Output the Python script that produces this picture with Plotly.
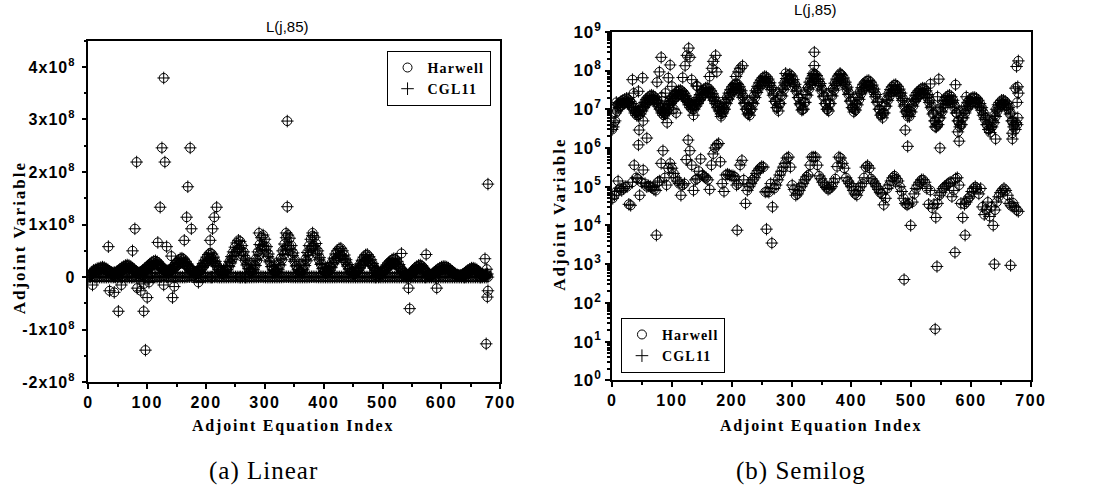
import plotly.graph_objects as go
import numpy as np

# ---------------- data ----------------
# upper band of adjoint values (units of 1e7), equation index 0,3,6,...
up_j = list(range(0, 679, 3))
up_e7 = [0.3, 0.45, 0.8, 1.3, 1.4, 1.6, 1.7, 1.8, 1.9, 1.8,
         1.6, 1.4, 1.1, 0.9, 0.8, 0.9, 1.0, 1.2, 1.5, 1.8,
         2.0, 2.2, 2.3, 2.2, 2.0, 1.7, 1.4, 1.1, 0.9, 0.8,
         1.0, 1.3, 1.6, 1.9, 2.2, 2.5, 2.8, 3.0, 3.1, 2.9,
         2.6, 2.2, 1.8, 1.5, 1.3, 1.2, 1.3, 1.6, 2.0, 2.4,
         2.8, 3.2, 3.5, 3.6, 3.4, 3.0, 2.5, 2.0, 1.6, 1.2,
         1.0, 0.9, 1.1, 1.5, 2.0, 2.6, 3.2, 3.8, 4.3, 4.6,
         4.4, 3.8, 3.0, 2.2, 1.5, 1.0, 0.8, 1.0, 1.5, 2.2,
         3.0, 3.9, 4.8, 5.7, 6.5, 7.0, 6.8, 6.0, 4.8, 3.6,
         2.5, 1.6, 1.1, 1.4, 2.3, 3.5, 4.8, 6.2, 7.5, 8.0,
         7.2, 5.8, 4.4, 3.1, 2.0, 1.3, 1.0, 1.5, 2.4, 3.6,
         5.0, 6.3, 7.5, 8.0, 7.4, 6.0, 4.6, 3.3, 2.2, 1.4,
         1.0, 1.4, 2.3, 3.4, 4.7, 6.0, 7.2, 7.9, 7.6, 6.4,
         5.0, 3.7, 2.6, 1.7, 1.1, 1.0, 1.4, 2.0, 2.8, 3.6,
         4.4, 5.0, 5.4, 5.5, 5.0, 4.2, 3.3, 2.4, 1.6, 1.0,
         0.75, 0.8, 1.2, 1.8, 2.5, 3.2, 3.8, 4.2, 4.3, 3.9,
         3.3, 2.6, 1.9, 1.3, 0.9, 0.75, 0.9, 1.3, 1.8, 2.3,
         2.7, 3.0, 3.3, 3.5, 3.4, 3.0, 2.4, 1.7, 1.2, 0.8,
         0.5, 0.4, 0.6, 0.9, 1.3, 1.7, 2.0, 2.2, 2.3, 2.1,
         1.7, 1.2, 0.8, 0.5, 0.4, 0.6, 0.9, 1.2, 1.5, 1.7,
         1.9, 2.0, 2.0, 1.9, 1.7, 1.4, 1.1, 0.8, 0.6, 0.4,
         0.3, 0.35, 0.5, 0.7, 1.0, 1.3, 1.5, 1.7, 1.7, 1.6,
         1.4, 1.1, 0.8, 0.5, 0.4, 0.45, 0.6]

# inner edge of the upper band (units of 1e7), equation index 2,5,8,...
mid_j = list(range(2, 678, 3))
mid_e7 = [0.35, 0.5, 0.9, 1.1, 1.2, 1.3, 1.4, 1.5, 1.5, 1.4,
          1.2, 1.0, 0.8, 0.7, 0.7, 0.75, 0.9, 1.1, 1.3, 1.5,
          1.7, 1.8, 1.8, 1.7, 1.5, 1.2, 1.0, 0.8, 0.7, 0.75,
          0.9, 1.1, 1.4, 1.6, 1.9, 2.1, 2.3, 2.4, 2.4, 2.2,
          1.9, 1.6, 1.3, 1.1, 1.0, 1.0, 1.2, 1.4, 1.7, 2.0,
          2.3, 2.6, 2.8, 2.7, 2.5, 2.1, 1.7, 1.4, 1.1, 0.9,
          0.75, 0.8, 1.0, 1.4, 1.8, 2.2, 2.7, 3.1, 3.4, 3.5,
          3.2, 2.6, 2.0, 1.4, 1.0, 0.75, 0.7, 1.0, 1.4, 2.0,
          2.7, 3.4, 4.1, 4.8, 5.3, 5.4, 4.9, 4.1, 3.2, 2.3,
          1.6, 1.1, 0.9, 1.4, 2.2, 3.2, 4.2, 5.3, 6.0, 5.9,
          5.0, 3.9, 2.9, 2.0, 1.4, 0.95, 1.0, 1.5, 2.3, 3.3,
          4.3, 5.3, 6.0, 6.0, 5.2, 4.1, 3.0, 2.1, 1.4, 1.0,
          0.9, 1.4, 2.2, 3.1, 4.1, 5.1, 5.8, 6.0, 5.4, 4.4,
          3.3, 2.4, 1.6, 1.1, 0.85, 0.95, 1.3, 1.8, 2.5, 3.1,
          3.6, 4.0, 4.2, 4.0, 3.5, 2.8, 2.1, 1.5, 1.0, 0.7,
          0.6, 0.8, 1.2, 1.7, 2.2, 2.7, 3.0, 3.2, 3.1, 2.7,
          2.2, 1.7, 1.2, 0.85, 0.65, 0.65, 0.85, 1.2, 1.6, 1.9,
          2.2, 2.4, 2.6, 2.6, 2.4, 2.0, 1.5, 1.1, 0.75, 0.5,
          0.35, 0.4, 0.6, 0.85, 1.1, 1.4, 1.6, 1.7, 1.7, 1.5,
          1.1, 0.8, 0.5, 0.35, 0.4, 0.6, 0.8, 1.0, 1.2, 1.4,
          1.5, 1.5, 1.5, 1.4, 1.2, 0.95, 0.7, 0.55, 0.4, 0.3,
          0.25, 0.35, 0.45, 0.65, 0.9, 1.1, 1.3, 1.4, 1.3, 1.2,
          1.0, 0.75, 0.5, 0.35, 0.3, 0.4]

# lower band of adjoint values (units of 1e5), equation index 1,4,7,...
low_j = list(range(1, 680, 3))
low_e5 = [0.5, 0.6, 0.75, 1.4, 0.9, 0.8, 0.9, 1.0, 1.0, 0.35,
          0.33, 1.3, 3.6, 1.7, 1.6, 0.6, 1.3, 2.7, 1.2, 1.0,
          1.05, 1.0, 0.95, 0.85, 0.8, 1.3, 1.4, 4.0, 8.5, 1.7,
          1.1, 3.0, 4.0, 3.0, 2.2, 1.7, 1.4, 1.2, 0.6, 1.1,
          1.2, 5.0, 16, 8.5, 3.6, 0.8, 1.5, 1.6, 2.5, 5.2,
          2.0, 1.8, 1.7, 1.5, 0.85, 3.6, 7.0, 10, 12, 13,
          4.4, 1.2, 0.75, 2.0, 2.1, 2.0, 1.9, 1.9, 1.8, 1.1,
          1.2, 3.6, 4.8, 1.5, 0.37, 0.8, 1.0, 1.2, 1.5, 1.7,
          2.2, 2.6, 3.0, 3.3, 3.2, 0.73, 0.75, 0.72, 1.2, 0.3,
          0.9, 1.1, 1.5, 2.0, 2.5, 3.2, 4.0, 5.5, 5.8, 3.2,
          1.1, 0.85, 0.6, 0.65, 0.8, 1.0, 1.2, 1.5, 1.8, 2.0,
          3.6, 5.8, 5.8, 5.8, 3.6, 1.9, 1.6, 1.3, 1.1, 0.95,
          0.85, 0.9, 1.0, 1.3, 1.6, 3.3, 5.8, 5.5, 4.0, 3.0,
          1.7, 1.4, 1.2, 1.0, 0.8, 0.65, 0.6, 0.8, 1.0, 1.2,
          1.7, 3.2, 3.5, 3.0, 1.6, 1.4, 1.2, 1.0, 0.85, 0.7,
          0.65, 0.34, 0.5, 0.9, 1.1, 1.4, 1.7, 1.9, 1.6, 1.4,
          1.0, 0.75, 0.5, 0.37, 0.34, 0.36, 0.1, 0.4, 0.65, 0.9,
          1.1, 1.3, 1.5, 1.5, 1.3, 0.9, 0.35, 0.8, 0.28, 0.35,
          0.16, 0.37, 0.6, 0.7, 0.9, 1.0, 1.1, 1.2, 1.3, 0.55,
          0.8, 1.6, 1.7, 1.1, 0.37, 0.16, 0.35, 0.4, 0.5, 0.55,
          0.75, 0.9, 1.0, 0.9, 0.65, 0.9, 0.3, 0.19, 0.26, 0.4,
          0.17, 0.3, 0.1, 0.25, 0.4, 0.55, 0.7, 0.8, 0.9, 0.8,
          0.6, 0.37, 0.32, 0.38, 0.3, 0.25, 0.23]

# isolated values (signed)
out_j = [7, 34, 36, 44, 45, 44, 51, 52, 56, 58,
         75, 79, 82, 83, 88, 89, 92, 94, 94, 97,
         100, 103, 107, 118, 122, 125, 128, 128, 130, 133,
         136, 141, 143, 146, 163, 167, 169, 173, 175, 182,
         187, 207, 211, 214, 218, 290, 336, 338, 338, 381,
         490, 494, 532, 540, 544, 546, 548, 574, 578, 580,
         592, 641, 669, 669, 674, 676, 677, 678, 679, 679,
         74, 209, 258, 267, 488, 540, 543, 573, 590, 639,
         666]
out_v = [-1.5e7, 5.8e7, -2.6e7, -2.9e7, 2.9e6, 1.2e6, -6.5e7, 5e6, -1.5e7, 1.8e6,
         5e7, 9.2e7, 2.19e8, -2.1e7, 8e6, -2.6e7, 4.5e6, -6.5e7, -1.3e7, -1.39e8,
         -3.9e7, -1e7, 8e6, 6.6e7, 1.33e8, 2.46e8, 3.79e8, -1.5e7, 2.19e8, 5.8e7,
         7e6, 4e7, -3.9e7, -1.8e7, 7e7, 1.14e8, 1.72e8, 2.46e8, 9.2e7, 6.5e6,
         -1e7, 7e7, 9.2e7, 1.14e8, 1.33e8, 8.4e7, 8.4e7, 2.97e8, 1.34e8, 8.4e7,
         2.9e6, 1.1e6, 4.5e7, 3.5e6, -2.1e7, -6e7, 1e6, 4.3e7, 2.6e6, 1.5e6,
         -2.1e7, 1.7e6, 1.7e6, 2.4e6, 3.5e7, -1.27e8, 1.5e7, -3.8e7, -2.6e7, 1.77e8,
         5.6e3, 7.5e3, 8e3, 3.5e3, 400, 21, 870, 2000, 5.6e3, 1000,
         930]

assert len(up_j) == len(up_e7)
assert len(mid_j) == len(mid_e7)
assert len(low_j) == len(low_e5)
assert len(out_j) == len(out_v)


def sp(txt, ls):
    return '<span style="letter-spacing:%spx">%s</span>' % (ls, txt)


lin_ticks = [-2e8, -1e8, 0, 1e8, 2e8, 3e8, 4e8]
lin_labels = ["-2x10<sup>8</sup>", "-1x10<sup>8</sup>", "0", "1x10<sup>8</sup>",
              "2x10<sup>8</sup>", "3x10<sup>8</sup>", "4x10<sup>8</sup>"]
log_ticks = [10 ** n for n in range(0, 10)]
log_labels = ["10<sup>%d</sup>" % n for n in range(0, 10)]
x_ticks = [0, 100, 200, 300, 400, 500, 600, 700]

lin_text = ["<b>" + sp(t, 1) + "</b>" for t in lin_labels]
log_text = ["<b>" + sp(t, 1) + "</b>" for t in log_labels]
x_text = ["<b>" + sp(str(v), 1.5) + "</b>" for v in x_ticks]

# Harwell and CGL11 solutions coincide
harwell_j = up_j + mid_j + low_j + out_j
harwell_v = ([v * 1e7 for v in up_e7] + [v * 1e7 for v in mid_e7]
             + [v * 1e5 for v in low_e5] + out_v)
cgl11_j = list(harwell_j)
cgl11_v = list(harwell_v)

# ---------------- figure ----------------
fig = go.Figure()
mk_c = dict(symbol="circle-open", size=9, color="black", line=dict(width=1, color="black"))
mk_p = dict(symbol="cross-thin-open", size=9, color="black", line=dict(width=1, color="black"))
n_h = "<b>" + sp("Harwell", 1.2) + "</b>"
n_c = "<b>" + sp("CGL11", 1.2) + "</b>"

fig.add_trace(go.Scatter(x=harwell_j, y=harwell_v, mode="markers", name=n_h,
                         marker=mk_c, xaxis="x", yaxis="y", legend="legend"))
fig.add_trace(go.Scatter(x=cgl11_j, y=cgl11_v, mode="markers", name=n_c,
                         marker=mk_p, xaxis="x", yaxis="y", legend="legend"))
fig.add_trace(go.Scatter(x=harwell_j, y=np.abs(harwell_v), mode="markers", name=n_h,
                         marker=mk_c, xaxis="x2", yaxis="y2", legend="legend2"))
fig.add_trace(go.Scatter(x=cgl11_j, y=np.abs(cgl11_v), mode="markers", name=n_c,
                         marker=mk_p, xaxis="x2", yaxis="y2", legend="legend2"))

W, H = 1094, 498
axis_common = dict(showline=True, linecolor="black", linewidth=1.5, mirror=True,
                   showgrid=False, zeroline=False, ticks="outside", ticklen=5,
                   tickwidth=1.5, tickcolor="black")
tickfont = dict(family="Liberation Sans", size=16, color="black")
logfont = dict(family="Liberation Sans", size=17, color="black")
legfont = dict(family="Liberation Serif", size=14, color="black")

fig.update_layout(
    width=W, height=H, margin=dict(l=0, r=0, t=0, b=0),
    paper_bgcolor="white", plot_bgcolor="white",
    xaxis=dict(domain=[85 / W, 505 / W], range=[0, 700], tickvals=x_ticks, ticktext=x_text,
               minor=dict(ticks="outside", dtick=50, ticklen=3, tickcolor="black"),
               anchor="y", tickfont=tickfont, **axis_common),
    yaxis=dict(domain=[1 - 387.3 / H, 1 - 30 / H], range=[-2e8, 4.5e8],
               tickvals=lin_ticks, ticktext=lin_text, ticklabelstandoff=3,
               minor=dict(ticks="outside", dtick=5e7, ticklen=3, tickcolor="black"),
               anchor="x", tickfont=tickfont, **axis_common),
    xaxis2=dict(domain=[619 / W, 1046 / W], range=[0, 700], tickvals=x_ticks, ticktext=x_text,
                minor=dict(ticks="outside", dtick=50, ticklen=3, tickcolor="black"),
                anchor="y2", tickfont=tickfont, **axis_common),
    yaxis2=dict(domain=[1 - 385.3 / H, 1 - 20.7 / H], type="log", range=[0, 9],
                tickvals=log_ticks, ticktext=log_text,
                minor=dict(ticks="outside", ticklen=3, tickcolor="black", tickmode="array",
                           tickvals=[k * 10 ** n for n in range(0, 9) for k in range(2, 10)]),
                anchor="x2", tickfont=logfont, **axis_common),
    legend=dict(x=389 / W, y=1 - 40.7 / H, xanchor="left", yanchor="top",
                bordercolor="black", borderwidth=1, bgcolor="white",
                font=legfont, tracegroupgap=0),
    legend2=dict(x=628 / W, y=1 - 320 / H, xanchor="left", yanchor="top",
                 bordercolor="black", borderwidth=1, bgcolor="white",
                 font=legfont, tracegroupgap=0),
    showlegend=True,
)

serif_b = dict(family="Liberation Serif", size=16, color="black")
serif_y = dict(family="Liberation Serif", size=17, color="black")
sans = dict(family="Liberation Sans", size=15, color="black")
cap = dict(family="Liberation Serif", size=25, color="black")
ann = [
    dict(text="L(j,85)", x=288 / W, y=1 - 15 / H, yanchor="middle", font=sans),
    dict(text="L(j,85)", x=826 / W, y=1 - 8 / H, yanchor="bottom", font=sans),
    dict(text="<b>" + sp("Adjoint Variable", 2) + "</b>", x=15 / W, y=1 - 236 / H,
         yanchor="middle", textangle=-90, font=serif_y),
    dict(text="<b>" + sp("Adjoint Variable", 2) + "</b>", x=565 / W, y=1 - 212 / H,
         yanchor="middle", textangle=-90, font=serif_y),
    dict(text="<b>" + sp("Adjoint Equation Index", 1.8) + "</b>", x=294 / W, y=1 - 433 / H,
         yanchor="middle", font=serif_b),
    dict(text="<b>" + sp("Adjoint Equation Index", 1.8) + "</b>", x=832 / W, y=1 - 433 / H,
         yanchor="middle", font=serif_b),
    dict(text=sp("(a) Linear", 1), x=264 / W, y=1 - 480 / H, yanchor="middle", font=cap),
    dict(text=sp("(b) Semilog", 1), x=812 / W, y=1 - 480 / H, yanchor="middle", font=cap),
]
for a in ann:
    fig.add_annotation(xref="paper", yref="paper", showarrow=False, xanchor="center", **a)

fig.write_html("out.html")
